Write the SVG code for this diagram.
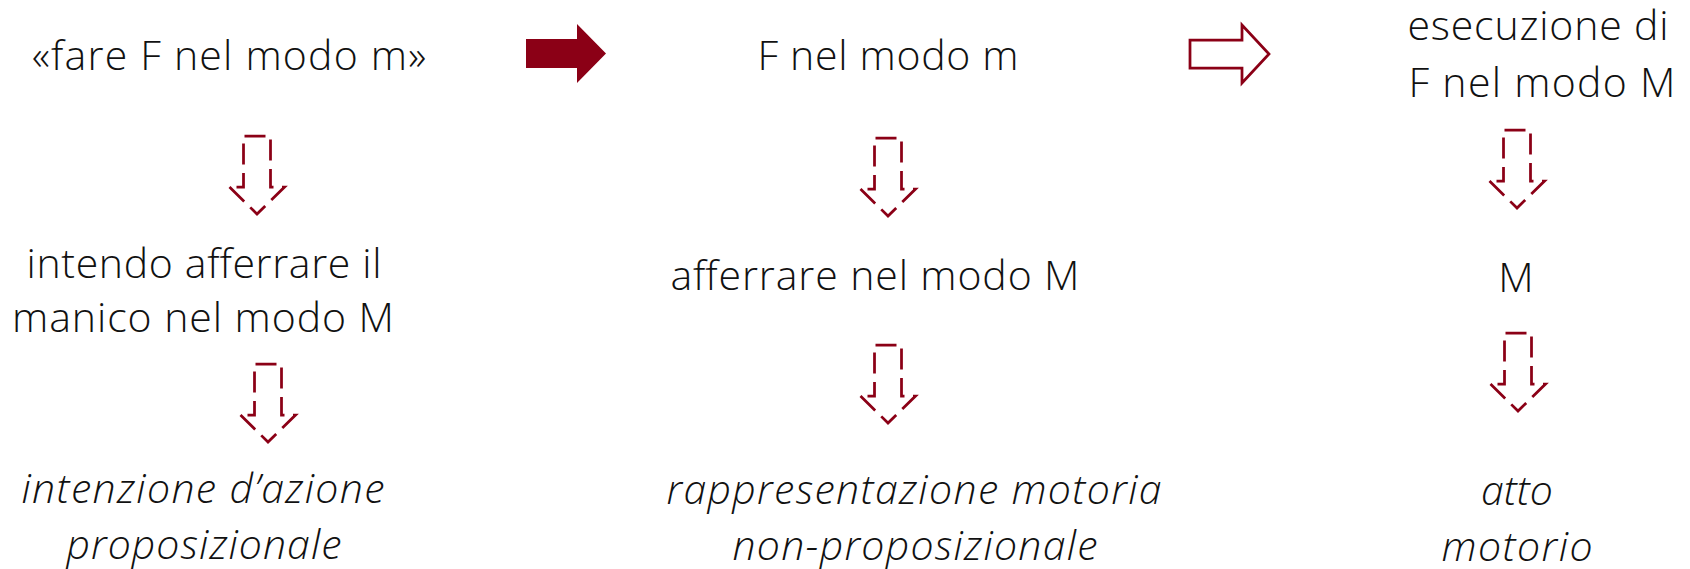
<svg xmlns="http://www.w3.org/2000/svg" xmlns:xlink="http://www.w3.org/1999/xlink" width="1690" height="569" viewBox="0 0 1690 569">
  <style>
    .t { font-family: "Open Sans", "Noto Sans", "Liberation Sans", sans-serif; font-weight: 340; font-size: 41px; fill: #111; text-anchor: middle; }
    .i { font-style: italic; }
    .dash { fill: none; stroke: #8B0016; stroke-width: 2.75; stroke-dasharray: 21 8.5; stroke-dashoffset: 22.5; stroke-linejoin: miter; }
    .solid { fill: #8B0016; stroke: none; }
    .outline { fill: #ffffff; stroke: #8B0016; stroke-width: 2.75; stroke-linejoin: miter; }
  </style>
  <defs>
    <path id="downArrow" d="M -27.5 51 H -13.5 V 0 H 13.5 V 51 H 27.5 L 0 78 Z"/>
  </defs>
  <rect width="1690" height="569" fill="#ffffff"/>

  <g id="connectors">
    <path id="arrow-solid" class="solid" d="M526 39 H577 V24 L606 53.5 L577 83 V68 H526 Z"/>
    <path id="arrow-outline" class="outline" d="M1190 40 H1242 V25 L1269 54 L1242 83 V68 H1190 Z"/>
    <use xlink:href="#downArrow" href="#downArrow" class="dash" transform="translate(257,136)"/>
    <use xlink:href="#downArrow" href="#downArrow" class="dash" transform="translate(268,364)"/>
    <use xlink:href="#downArrow" href="#downArrow" class="dash" transform="translate(888,138)"/>
    <use xlink:href="#downArrow" href="#downArrow" class="dash" transform="translate(888,345)"/>
    <use xlink:href="#downArrow" href="#downArrow" class="dash" transform="translate(1517,130)"/>
    <use xlink:href="#downArrow" href="#downArrow" class="dash" transform="translate(1518,333)"/>
  </g>

  <g id="node-fare">
    <text class="t" x="229" y="70" textLength="394">«fare F nel modo m»</text>
  </g>
  <g id="node-F-modo-m">
    <text class="t" x="888" y="70" textLength="261">F nel modo m</text>
  </g>
  <g id="node-esecuzione">
    <text class="t" x="1538" y="40" textLength="261">esecuzione di</text>
    <text class="t" x="1542" y="97" textLength="267">F nel modo M</text>
  </g>
  <g id="node-intendo">
    <text class="t" x="204" y="278" textLength="355">intendo afferrare il</text>
    <text class="t" x="203" y="332" textLength="382">manico nel modo M</text>
  </g>
  <g id="node-afferrare">
    <text class="t" x="875" y="290" textLength="409">afferrare nel modo M</text>
  </g>
  <g id="node-M">
    <text class="t" x="1516" y="292">M</text>
  </g>
  <g id="node-intenzione">
    <text class="t i" x="203" y="503" textLength="363">intenzione d’azione</text>
    <text class="t i" x="204" y="559" textLength="275">proposizionale</text>
  </g>
  <g id="node-rappresentazione">
    <text class="t i" x="914" y="504" textLength="495">rappresentazione motoria</text>
    <text class="t i" x="915" y="560" textLength="365">non-proposizionale</text>
  </g>
  <g id="node-atto">
    <text class="t i" x="1517" y="505">atto</text>
    <text class="t i" x="1517" y="561" textLength="151">motorio</text>
  </g>
</svg>
